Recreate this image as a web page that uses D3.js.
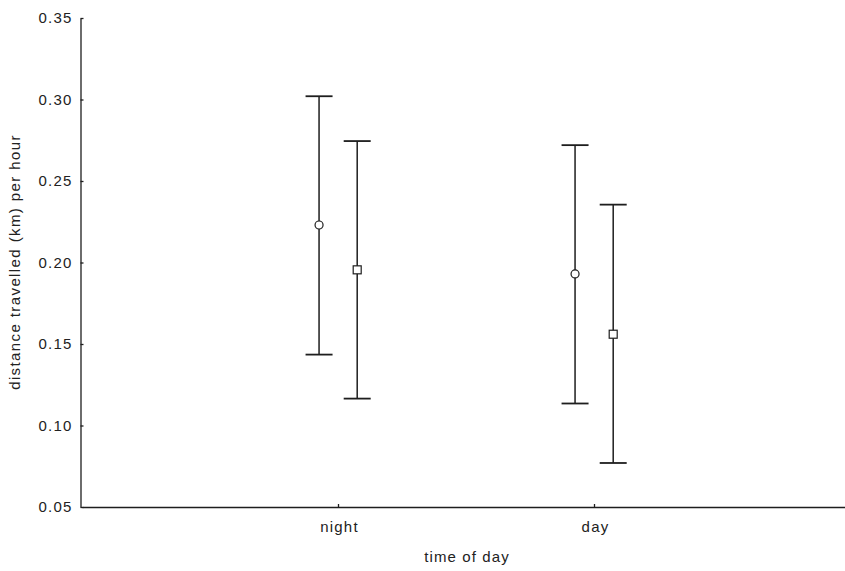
<!DOCTYPE html>
<html>
<head>
<meta charset="utf-8">
<script src="https://cdn.jsdelivr.net/npm/d3@7"></script>
<style>
  html, body { margin: 0; padding: 0; background: #fff; }
  svg text { font-family: "Liberation Sans", Arial, sans-serif; fill: #222; }
</style>
</head>
<body>
<svg id="chart" width="845" height="571"></svg>
<script>
// Time-of-day categories and the two groups' means with their interval bounds
const categories = ["night", "day"];
const groups = ["circle", "square"];
const means  = { circle: [0.223, 0.193], square: [0.1955, 0.156] };
const upper  = { circle: [0.302, 0.272], square: [0.2745, 0.2355] };
const lower  = { circle: [0.1435, 0.1135], square: [0.1165, 0.077] };
const yTicks = [0.05, 0.10, 0.15, 0.20, 0.25, 0.30, 0.35];

const svg = d3.select("#chart");
const ink = "#1e1e1e";

// Categories sit at positions 1 and 2 on a 0..3 axis
const x = d3.scaleLinear().domain([0, 3]).range([82, 850]);
const y = d3.scaleLinear().domain([0.05, 0.35]).range([507, 18]);
const offset = { circle: -0.074, square: 0.075 };

// Y axis
const yAxis = svg.append("g")
  .attr("transform", `translate(${x(0) - 1.5},0)`)
  .call(d3.axisRight(y).tickValues(yTicks).tickFormat(d3.format(".2f")).tickSize(3).tickSizeOuter(0));
yAxis.select(".domain").attr("stroke", ink).attr("stroke-width", 1.3);
yAxis.selectAll(".tick line").attr("stroke", ink).attr("stroke-width", 1.3);
yAxis.selectAll(".tick text")
  .attr("x", -8).attr("text-anchor", "end")
  .attr("font-size", 15).attr("letter-spacing", 1.2).attr("fill", ink);

// X axis
const xAxis = svg.append("g")
  .attr("transform", `translate(0,${y(0.05)})`)
  .call(d3.axisTop(x).tickValues([1, 2]).tickFormat(d => categories[d - 1]).tickSize(3).tickSizeOuter(0));
xAxis.select(".domain").attr("stroke", ink).attr("stroke-width", 1.3);
xAxis.selectAll(".tick text")
  .attr("y", 14).attr("dy", "0.71em").attr("dx", 1)
  .attr("font-size", 15).attr("letter-spacing", 1.2).attr("fill", ink);
xAxis.selectAll(".tick line").attr("stroke", ink).attr("stroke-width", 1.3);

// Axis titles
svg.append("text")
  .attr("x", 467).attr("y", 562)
  .attr("text-anchor", "middle").attr("font-size", 15).attr("letter-spacing", 1.1)
  .text("time of day");
svg.append("text")
  .attr("transform", "translate(20,262) rotate(-90)")
  .attr("text-anchor", "middle").attr("font-size", 15).attr("letter-spacing", 1.4)
  .text("distance travelled (km) per hour");

// Error bars with mean markers
const rows = [];
groups.forEach(g => categories.forEach((c, i) => rows.push({
  g, pos: i + 1 + offset[g], mean: means[g][i], hi: upper[g][i], lo: lower[g][i]
})));

const cap = 13.5;
const bars = svg.append("g").attr("stroke", ink).attr("stroke-width", 1.5).attr("fill", "none");
rows.forEach(r => {
  const cx = x(r.pos);
  bars.append("line").attr("x1", cx).attr("x2", cx).attr("y1", y(r.hi)).attr("y2", y(r.lo));
  bars.append("line").attr("x1", cx - cap).attr("x2", cx + cap).attr("y1", y(r.hi)).attr("y2", y(r.hi)).attr("stroke-width", 1.8);
  bars.append("line").attr("x1", cx - cap).attr("x2", cx + cap).attr("y1", y(r.lo)).attr("y2", y(r.lo)).attr("stroke-width", 1.8);
});

const marks = svg.append("g").attr("stroke", ink).attr("stroke-width", 1.2).attr("fill", "#fff");
rows.forEach(r => {
  const cx = x(r.pos), cy = y(r.mean);
  if (r.g === "circle") {
    marks.append("circle").attr("cx", cx).attr("cy", cy).attr("r", 4);
  } else {
    marks.append("rect").attr("x", cx - 4).attr("y", cy - 4).attr("width", 8).attr("height", 8);
  }
});
</script>
</body>
</html>
